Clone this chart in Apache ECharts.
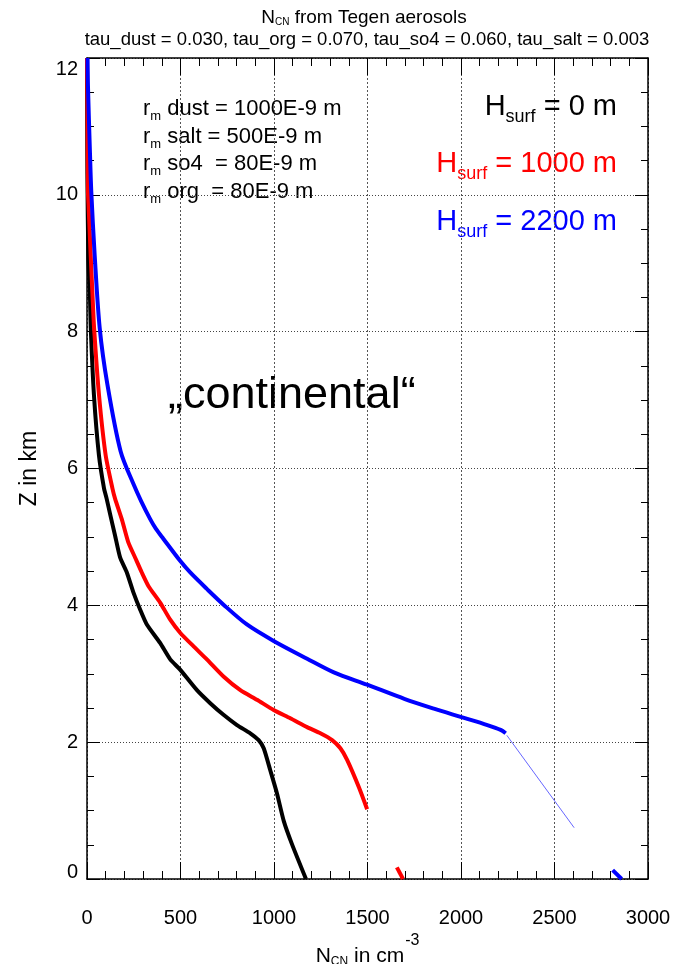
<!DOCTYPE html>
<html><head><meta charset="utf-8">
<script src="https://cdn.jsdelivr.net/npm/echarts@6/dist/echarts.min.js"></script>
<style>html,body{margin:0;padding:0;background:#fff}#c{width:676px;height:964px}</style>
</head><body><div id="c"></div>
<script>
// ---- data (N_CN in cm^-3, Z in km) ----
const xTickValues = [0, 500, 1000, 1500, 2000, 2500, 3000];
const yTickValues = [0, 2, 4, 6, 8, 10, 12];

const curveH0 = [[0,12.0],[1,11.0],[2,10.3],[7,9.1],[16,8.5],[20,8.06],[37,7.08],[64,6.19],[91,5.71],[105,5.56],[123,5.34],[150,5.02],[177,4.70],[213,4.48],[248,4.19],[284,3.94],[320,3.72],[391,3.45],[445,3.21],[498,3.06],[588,2.76],[659,2.57],[730,2.40],[802,2.25],[873,2.13],[918,2.03],[945,1.91],[980,1.59],[1016,1.25],[1052,0.85],[1096,0.51],[1171,0]];

const curveH1000 = [[0,12.0],[2,11.4],[5,10.04],[8,9.87],[20,9.1],[30,8.5],[38,8.05],[64,7.08],[100,6.19],[136,5.71],[150,5.56],[186,5.26],[221,4.92],[257,4.70],[293,4.48],[329,4.28],[391,4.04],[445,3.79],[498,3.60],[570,3.40],[641,3.21],[730,2.96],[820,2.76],[909,2.62],[998,2.47],[1087,2.35],[1177,2.22],[1248,2.13],[1311,2.03],[1355,1.91],[1391,1.74],[1454,1.34],[1498,1.02]];
const curveH1000Surf = [[1657,0.17],[1690,0]];

const curveH2200 = [[3,12.0],[5,11.6],[16,10.6],[23,10.04],[41,9.12],[68,8.05],[109,7.23],[180,6.25],[252,5.75],[290,5.52],[338,5.26],[368,5.12],[409,4.97],[498,4.65],[552,4.48],[641,4.24],[730,4.01],[855,3.72],[998,3.48],[1177,3.22],[1320,3.02],[1498,2.84],[1700,2.63],[1855,2.49],[1998,2.37],[2141,2.25],[2212,2.18],[2239,2.13]];
const curveH2200Thin = [[2245,2.1],[2605,0.75]];
const curveH2200Surf = [[2811,0.13],[2859,0]];

const tauText = 'tau_dust = 0.030, tau_org = 0.070, tau_so4 = 0.060, tau_salt = 0.003';
const rmLines = [['dust = 1000E-9 m'], ['salt = 500E-9 m'], ['so4  = 80E-9 m'], ['org  = 80E-9 m']];
const hsurfLabels = [['= 0 m', '#000000'], ['= 1000 m', '#ff0000'], ['= 2200 m', '#0000ff']];

// ---- chart ----
const F = '"Liberation Sans", Arial, Helvetica, sans-serif';
const chart = echarts.init(document.getElementById('c'), null, {renderer: 'canvas'});

function lineSeries(data, color, width, opacity, smooth) {
  return {type: 'line', data: data, showSymbol: false, symbol: 'none', animation: false,
    xAxisIndex: 0, yAxisIndex: 0, clip: true, z: 3, smooth: smooth || false,
    lineStyle: {color: color, width: width, opacity: opacity === undefined ? 1 : opacity, join: 'round'}};
}

const graphics = [];
graphics.push({type: 'text', x: 364, y: 18, style: {
  text: '{n|N}{s|CN}{n| from Tegen aerosols}', align: 'center', verticalAlign: 'middle',
  textAlign: 'center', textVerticalAlign: 'middle',
  rich: {n: {fontSize: 19, fontFamily: F, fill: '#000'}, s: {fontSize: 10, fontFamily: F, fill: '#000', padding: [8, 0, 0, 0]}}}});
graphics.push({type: 'text', x: 367, y: 40, style: {
  text: tauText, font: '18.5px ' + F, fill: '#000', align: 'center', verticalAlign: 'middle',
  textAlign: 'center', textVerticalAlign: 'middle'}});
const rmY = [108.7, 136.5, 164.3, 192.0];
rmLines.forEach(function (l, i) {
  graphics.push({type: 'text', x: 143, y: rmY[i], style: {
    text: '{a|r}{s|m}{a| ' + l[0] + '}', align: 'left', verticalAlign: 'middle',
    textAlign: 'left', textVerticalAlign: 'middle',
    rich: {a: {fontSize: 22, fontFamily: F, fill: '#000'}, s: {fontSize: 13, fontFamily: F, fill: '#000', padding: [15, 0, 0, 0]}}}});
});
const hY = [106.6, 163.6, 221.6];
hsurfLabels.forEach(function (h, i) {
  graphics.push({type: 'text', x: 617, y: hY[i], style: {
    text: '{a|H}{s|surf}{a| ' + h[0] + '}', align: 'right', verticalAlign: 'middle',
    textAlign: 'right', textVerticalAlign: 'middle',
    rich: {a: {fontSize: 29, fontFamily: F, fill: h[1]}, s: {fontSize: 18, fontFamily: F, fill: h[1], padding: [20, 0, 0, 0]}}}});
});
graphics.push({type: 'text', x: 168, y: 396, style: {
  text: '\u201Econtinental\u201C', font: '45px ' + F, fill: '#000', align: 'left', verticalAlign: 'middle',
  textAlign: 'left', textVerticalAlign: 'middle'}});

const gridDotH = {show: true, lineStyle: {color: '#444', width: 1, type: [1, 2]}};
const gridDotV = {show: true, lineStyle: {color: '#555', width: 1, type: [2, 2]}};
const axLine = {show: true, onZero: false, lineStyle: {color: '#000', width: 1.5}};

const option = {
  animation: false,
  backgroundColor: '#fff',
  grid: {left: 87, right: 28, top: 58, bottom: 85, containLabel: false, outerBoundsMode: 'none'},
  graphic: graphics,
  xAxis: [{
    type: 'value', position: 'bottom', min: 0, max: 3000, interval: 500,
    axisLine: axLine,
    axisTick: {show: true, inside: true, length: 17, lineStyle: {color: '#000', width: 1}},
    minorTick: {show: true, splitNumber: 5, length: 8, lineStyle: {color: '#000', width: 1}},
    axisLabel: {show: true, margin: 29, fontSize: 20, fontFamily: F, color: '#000',
      formatter: function (v) { return xTickValues.indexOf(v) >= 0 ? String(v) : ''; }},
    splitLine: gridDotV,
    name: '{a|N}{s|CN}{a| in cm}{p|-3}', nameLocation: 'middle', nameGap: 51,
    nameTextStyle: {rich: {
      a: {fontSize: 21, fontFamily: F, color: '#000'},
      s: {fontSize: 12, fontFamily: F, color: '#000', padding: [12, 0, 0, 0]},
      p: {fontSize: 16, fontFamily: F, color: '#000', padding: [0, 0, 30, 1]}}}
  }, {
    type: 'value', position: 'top', min: 0, max: 3000, interval: 500,
    axisLine: axLine,
    axisTick: {show: true, inside: true, length: 17, lineStyle: {color: '#000', width: 1}},
    minorTick: {show: true, splitNumber: 5, length: 8, lineStyle: {color: '#000', width: 1}},
    axisLabel: {show: false}, splitLine: {show: false}
  }],
  yAxis: [{
    type: 'value', position: 'left', min: 0, max: 12, interval: 2,
    axisLine: axLine,
    axisTick: {show: true, inside: true, length: 13, lineStyle: {color: '#000', width: 1}},
    minorTick: {show: true, splitNumber: 4, length: 7, lineStyle: {color: '#000', width: 1}},
    axisLabel: {show: true, margin: 9, fontSize: 20, fontFamily: F, color: '#000',
      formatter: function (v) {
        if (v === 12) return '{t|12}';
        if (v === 0) return '{b|0}';
        return yTickValues.indexOf(v) >= 0 ? String(v) : '';
      },
      rich: {t: {fontSize: 20, fontFamily: F, color: '#000', padding: [22, 0, 0, 0]},
             b: {fontSize: 20, fontFamily: F, color: '#000', padding: [0, 0, 14, 0]}}},
    splitLine: gridDotH,
    name: 'Z in km', nameLocation: 'middle', nameGap: 46,
    nameTextStyle: {fontSize: 23, fontFamily: F, color: '#000'}
  }, {
    type: 'value', position: 'right', min: 0, max: 12, interval: 2,
    axisLine: axLine,
    axisTick: {show: true, inside: true, length: 13, lineStyle: {color: '#000', width: 1}},
    minorTick: {show: true, splitNumber: 4, length: 7, lineStyle: {color: '#000', width: 1}},
    axisLabel: {show: false}, splitLine: {show: false}
  }],
  series: [
    lineSeries(curveH0, '#000000', 4, 1, 0.2),
    lineSeries(curveH1000, '#ff0000', 4, 1, 0.2),
    lineSeries(curveH1000Surf, '#ff0000', 4),
    lineSeries(curveH2200, '#0000ff', 4, 1, 0.3),
    lineSeries(curveH2200Thin, '#0000ff', 1, 0.6),
    lineSeries(curveH2200Surf, '#0000ff', 4)
  ]
};
chart.setOption(option);
</script>
</body></html>
